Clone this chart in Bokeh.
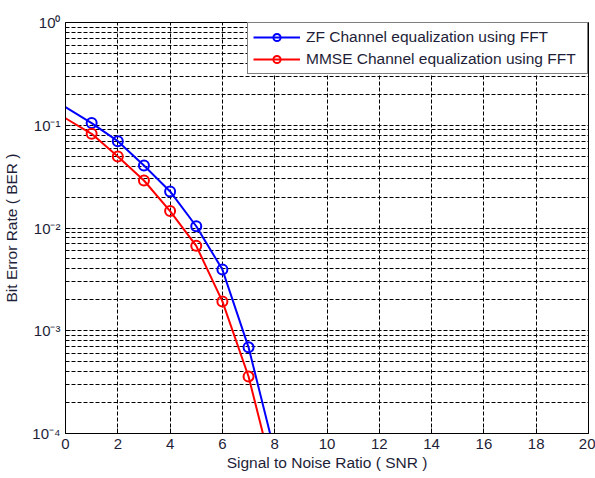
from bokeh.plotting import figure
from bokeh.models import Range1d, FixedTicker, Legend, LegendItem
from bokeh.embed import file_html
from bokeh.resources import INLINE

# ---- data ----
snr = [0, 1, 2, 3, 4, 5, 6, 7, 8]
ber_zf = [0.150, 0.105, 0.070, 0.0406, 0.0227, 0.0104, 0.00394, 0.00069, 0.000066]
ber_mmse = [0.117, 0.0826, 0.0497, 0.029, 0.0146, 0.0067, 0.00193, 0.000359, 0.000035]

series_names = ["ZF Channel equalization using FFT", "MMSE Channel equalization using FFT"]

x_ticks = [0, 2, 4, 6, 8, 10, 12, 14, 16, 18, 20]
y_ticks = [1e-4, 1e-3, 1e-2, 1e-1, 1.0]
y_tick_labels = ["10\u207b\u2074", "10\u207b\u00b3", "10\u207b\u00b2", "10\u207b\u00b9", "10\u2070"]
y_minor = [m * t for t in y_ticks[:-1] for m in range(2, 10)]

FONT = "Liberation Sans"
TXT = "#1e1e38"

p = figure(width=595, height=478, y_axis_type="log",
           x_range=Range1d(0, 20), y_range=Range1d(1e-4, 1.0),
           output_backend="svg", toolbar_location=None,
           min_border_left=64, min_border_right=7,
           min_border_top=22, min_border_bottom=45)
p.background_fill_color = "white"
p.border_fill_color = "white"
p.outline_line_color = "black"
p.outline_line_width = 1

xt = FixedTicker(ticks=x_ticks)
yt = FixedTicker(ticks=y_ticks, minor_ticks=y_minor)
p.xaxis.ticker = xt
p.yaxis.ticker = yt
p.xgrid.ticker = xt
p.ygrid.ticker = yt
p.yaxis.major_label_overrides = {float(t): l for t, l in zip(y_ticks, y_tick_labels)}

for ax in (p.xaxis, p.yaxis):
    ax.axis_line_color = "black"
    ax.major_tick_in = 5
    ax.major_tick_out = 0
    ax.minor_tick_in = 3
    ax.minor_tick_out = 0
    ax.major_tick_line_color = "black"
    ax.minor_tick_line_color = "black"
    ax.major_label_text_font = FONT
    ax.major_label_text_font_size = "15px"
    ax.major_label_text_color = TXT
    ax.axis_label_text_font = FONT
    ax.axis_label_text_font_size = "15.5px"
    ax.axis_label_text_font_style = "normal"
    ax.axis_label_text_color = TXT

p.xaxis.axis_label = "Signal to Noise Ratio ( SNR )"
p.yaxis.axis_label = "Bit Error Rate ( BER )"
p.xaxis.major_label_standoff = 5
p.xaxis.axis_label_standoff = 2
p.yaxis.major_label_standoff = 5
p.yaxis.axis_label_standoff = 9

for g in (p.xgrid, p.ygrid):
    g.grid_line_color = "black"
    g.grid_line_dash = "4 2"
    g.grid_line_width = 1
    g.grid_line_alpha = 1.0
p.ygrid.minor_grid_line_color = "black"
p.ygrid.minor_grid_line_dash = "4 2"
p.ygrid.minor_grid_line_width = 1
p.ygrid.minor_grid_line_alpha = 1.0

l1 = p.line(snr, ber_zf, line_color="#0000ff", line_width=2)
s1 = p.scatter(snr[1:], ber_zf[1:], marker="circle", size=10,
               fill_color=None, line_color="#0000ff", line_width=2)
l2 = p.line(snr, ber_mmse, line_color="#ff0000", line_width=2)
s2 = p.scatter(snr[1:], ber_mmse[1:], marker="circle", size=10,
               fill_color=None, line_color="#ff0000", line_width=2)

legend = Legend(items=[LegendItem(label=series_names[0], renderers=[l1, s1]),
                       LegendItem(label=series_names[1], renderers=[l2, s2])],
                location="top_right", margin=0, padding=5, spacing=4,
                glyph_width=47, glyph_height=18, label_height=18,
                label_standoff=6, label_width=276,
                label_text_font=FONT, label_text_font_size="15.5px",
                label_text_color=TXT,
                border_line_color="black", border_line_width=1,
                background_fill_color="white", background_fill_alpha=1.0)
p.add_layout(legend)

open("out.html", "w").write(file_html(p, INLINE))
